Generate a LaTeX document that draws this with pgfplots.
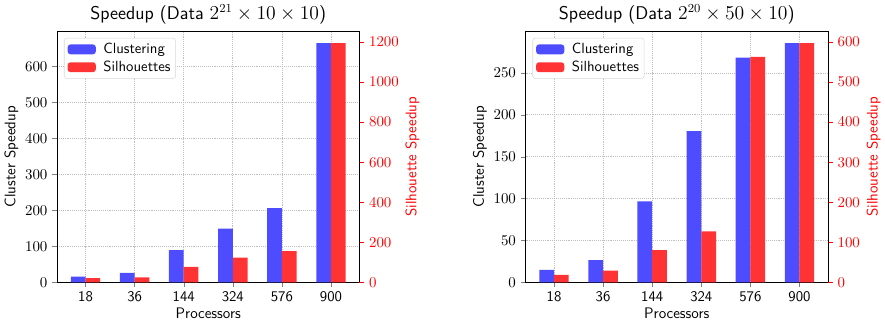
\documentclass[border=0pt]{standalone}
\usepackage{pgfplots}
\pgfplotsset{compat=1.18}
\definecolor{cblue}{RGB}{77,77,255}
\definecolor{cred}{RGB}{255,51,51}
\pgfplotsset{
  common/.style={
    scale only axis, width=221.8pt, height=184.3pt, anchor=south west,
    xmin=-0.58, xmax=5.58, ymin=0,
    tick align=outside, major tick length=3.5pt,
    every tick label/.append style={font=\fontsize{10.8}{13}\selectfont},
    label style={font=\sffamily\fontsize{11.2}{13}\selectfont},
    axis line style={line width=0.6pt},
    /pgf/number format/1000 sep={},
  },
  leftax/.style={
    common,
    xtick={0,...,5}, xticklabels={18,36,144,324,576,900},
    xticklabel style={font=\sffamily\fontsize{10.8}{13}\selectfont},
    xtick pos=bottom, ytick pos=left,
    xmajorgrids, ymajorgrids,
    grid style={densely dotted, gray!50, line width=0.5pt},
    xlabel={Processors}, ylabel={Cluster Speedup},
    xlabel style={yshift=3pt}, ylabel style={yshift=-2pt},
    title style={font=\sffamily\fontsize{13.5}{16}\selectfont, yshift=-4.5pt},
    legend style={at={(0.023,0.973)}, anchor=north west, draw=gray!30, rounded corners=2pt,
      font=\sffamily\fontsize{10.8}{13}\selectfont, row sep=1.5pt,
      inner xsep=2.5pt, inner ysep=2.5pt, nodes={inner sep=1.2pt},
      legend cell align=left},
  },
  rightax/.style={
    common,
    axis x line=none, axis y line*=right,
    ytick style={red}, yticklabel style={red},
    ylabel={Silhouette Speedup}, ylabel style={red, yshift=2pt},
  },
  barleg/.style={legend image code/.code={\fill[##1] (1pt,-3.6pt) rectangle (21.6pt,3.6pt); \path (26pt,0pt);}},
}
\begin{document}
\begin{tikzpicture}
\path (0,0) rectangle (637.2pt,235.4pt);
% ---------- left chart ----------
\begin{axis}[leftax, at={(38.9pt,32.4pt)}, ymax=698.3, ytick={0,100,...,600},
  title={Speedup (Data $2^{21}\times 10\times 10$)}]
\addplot[ybar, bar width=0.3, bar shift=-0.15, fill=cblue, draw=none, barleg]
  coordinates {(0,15.6) (1,26.5) (2,89.4) (3,149.6) (4,206) (5,665)};
\addlegendentry{Clustering}
\addlegendimage{fill=cred, draw=none, barleg}
\addlegendentry{Silhouettes}
\end{axis}
\begin{axis}[rightax, at={(38.9pt,32.4pt)}, ymax=1254.8, ytick={0,200,...,1200}]
\addplot[ybar, bar width=0.3, bar shift=0.15, fill=cred, draw=none]
  coordinates {(0,21) (1,24.5) (2,77) (3,123) (4,156) (5,1195)};
\end{axis}
% ---------- right chart ----------
\begin{axis}[leftax, at={(382.5pt,32.4pt)}, ymax=300, ytick={0,50,...,250},
  title={Speedup (Data $2^{20}\times 50\times 10$)}]
\addplot[ybar, bar width=0.3, bar shift=-0.15, fill=cblue, draw=none, barleg]
  coordinates {(0,14.9) (1,26.6) (2,96.7) (3,180.4) (4,268.4) (5,285.7)};
\addlegendentry{Clustering}
\addlegendimage{fill=cred, draw=none, barleg}
\addlegendentry{Silhouettes}
\end{axis}
\begin{axis}[rightax, at={(382.5pt,32.4pt)}, ymax=627.5, ytick={0,100,...,600}]
\addplot[ybar, bar width=0.3, bar shift=0.15, fill=cred, draw=none]
  coordinates {(0,18.9) (1,29.5) (2,80.3) (3,127) (4,563) (5,597.6)};
\end{axis}
\end{tikzpicture}
\end{document}
